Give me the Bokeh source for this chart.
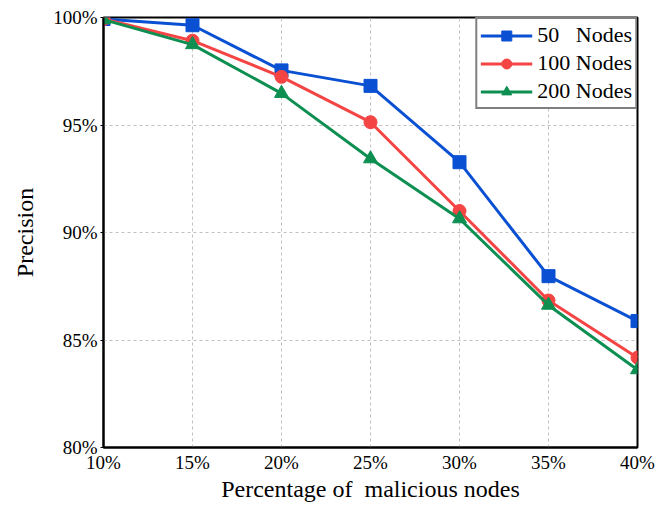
from bokeh.plotting import figure
from bokeh.models import Range1d, FixedTicker, PrintfTickFormatter, Legend, LegendItem
from bokeh.embed import file_html
from bokeh.resources import INLINE

x_pct = [10, 15, 20, 25, 30, 35, 40]
nodes50 = [99.93, 99.64, 97.54, 96.82, 93.27, 87.97, 85.88]
nodes100 = [99.93, 98.92, 97.24, 95.13, 91.0, 86.84, 84.18]
nodes200 = [99.90, 98.74, 96.47, 93.43, 90.64, 86.62, 83.62]
series_labels = ["50\u00a0\u00a0\u00a0Nodes", "100 Nodes", "200 Nodes"]
x_ticks = [10, 15, 20, 25, 30, 35, 40]
y_ticks = [80, 85, 90, 95, 100]

FONT = "Liberation Serif"

p = figure(width=658, height=512, output_backend="svg", toolbar_location=None,
           x_range=Range1d(10, 40), y_range=Range1d(80, 100),
           min_border_left=103, min_border_right=21, min_border_top=17,
           min_border_bottom=65)
p.background_fill_color = "white"
p.border_fill_color = "white"
p.outline_line_color = "black"
p.outline_line_width = 2
p.outline_line_alpha = 1

p.xaxis.formatter = PrintfTickFormatter(format="%d%%")
p.yaxis.formatter = PrintfTickFormatter(format="%d%%")
p.xaxis.ticker = FixedTicker(ticks=x_ticks)
p.yaxis.ticker = FixedTicker(ticks=y_ticks)
p.axis.axis_line_color = "black"
p.axis.axis_line_width = 2
p.axis.major_tick_line_color = "black"
p.axis.major_tick_line_width = 1
p.axis.minor_tick_line_color = None
p.axis.major_label_text_font = FONT
p.axis.major_label_text_font_size = "19px"
p.axis.major_label_text_color = "black"
p.axis.axis_label_text_font = FONT
p.axis.axis_label_text_font_size = "24px"
p.axis.axis_label_text_font_style = "normal"
p.axis.axis_label_text_color = "black"
p.xaxis.major_tick_out = 0
p.xaxis.major_tick_in = 0
p.yaxis.major_tick_out = 3
p.yaxis.major_tick_in = 0
p.xaxis.major_label_standoff = 4
p.yaxis.major_label_standoff = 3
p.xaxis.axis_label = "Percentage of\u00a0 malicious nodes"
p.yaxis.axis_label = "Precision"
p.xaxis.axis_label_standoff = 0
p.yaxis.axis_label_standoff = 12

p.grid.grid_line_color = "#c0c0c0"
p.grid.grid_line_width = 1
p.grid.grid_line_dash = "3 3"

colors = ["#0a50d2", "#f44444", "#0e8f52"]
markers = ["square", "circle", "triangle"]
sizes = [13, 13, 14]
data = [nodes50, nodes100, nodes200]

items = []
for ys, c, m, s, lab in zip(data, colors, markers, sizes, series_labels):
    l = p.line(x_pct, ys, line_color=c, line_width=3)
    sc = p.scatter(x_pct, ys, marker=m, size=s, fill_color=c, line_color=c)
    items.append(LegendItem(label=lab, renderers=[l, sc]))

legend = Legend(items=items, location="top_right")
legend.margin = 0
legend.padding = 3
legend.spacing = 2
legend.border_line_color = "black"
legend.border_line_width = 2
legend.background_fill_color = "white"
legend.background_fill_alpha = 1
legend.label_text_font = FONT
legend.label_text_font_size = "22px"
legend.label_text_color = "black"
legend.glyph_width = 52
legend.glyph_height = 25
legend.label_height = 25
legend.label_standoff = 5
p.add_layout(legend)

open("out.html", "w").write(file_html(p, INLINE))
